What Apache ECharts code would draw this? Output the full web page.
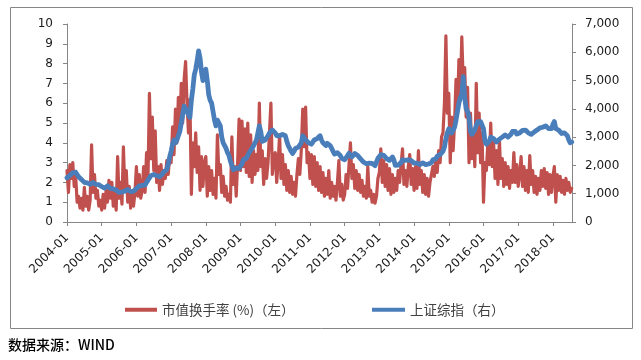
<!DOCTYPE html>
<html><head><meta charset="utf-8">
<script src="https://cdn.jsdelivr.net/npm/echarts@6/dist/echarts.min.js"></script>
<style>html,body{margin:0;padding:0;background:#fff}#c{width:641px;height:360px}</style>
</head><body><div id="c"></div>
<script>
// Semi-monthly samples starting 2004-01 (24 per year)
var startYear = 2004;
var stepsPerYear = 24;
var yearTicks = [2004,2005,2006,2007,2008,2009,2010,2011,2012,2013,2014,2015,2016,2017,2018];
var turnoverName = '市值换手率 (%)（左）';
var indexName = '上证综指（右）';
var turnover = [
 2.6,1.5,2.9,2.2,3.0,1.8,2.3,1.0,1.3,0.7,1.2,0.6,1.75,0.8,1.3,0.6,1.1,3.9,1.5,2.4,1.2,1.6,0.8,1.1,
 0.6,1.4,0.7,1.6,1.0,2.1,1.2,2.0,0.8,1.5,0.6,3.3,1.2,2.0,0.9,3.8,1.6,2.6,1.0,1.8,0.7,1.4,0.8,1.5,
 2.8,1.3,2.4,1.2,1.6,2.8,1.5,3.5,2.2,6.5,3.2,5.3,2.6,4.6,2.0,2.8,1.6,2.9,1.9,2.6,2.2,3.1,2.4,3.3,
 3.0,4.8,3.4,5.7,4.0,6.3,4.5,7.0,5.0,7.2,8.1,6.0,4.5,6.2,1.4,4.0,2.8,4.5,2.5,3.8,1.6,3.3,1.8,3.0,
 3.3,1.3,2.8,1.6,2.6,1.4,2.2,1.2,4.4,2.4,2.9,1.5,2.3,1.3,1.8,1.1,1.4,1.0,4.3,1.9,2.8,1.3,3.0,5.2,
 2.6,5.1,2.8,4.7,2.5,5.0,2.3,4.4,2.0,3.6,2.4,3.4,2.6,6.0,2.8,3.6,1.9,3.2,2.2,3.0,3.0,6.0,2.4,3.3,
 3.5,2.0,3.0,4.4,2.2,3.4,1.9,2.9,1.6,2.6,1.5,2.3,1.4,2.0,1.3,2.4,3.2,2.4,3.6,5.7,3.8,5.8,3.0,3.5,
 2.2,3.4,1.9,3.3,1.8,3.0,1.6,2.8,1.5,2.5,1.3,2.2,1.4,2.6,1.2,2.0,1.3,1.8,1.1,2.0,3.1,1.3,1.9,1.1,
 1.4,2.4,1.7,2.9,4.0,2.2,2.9,1.7,2.6,1.6,2.4,1.5,2.1,1.3,1.8,1.2,2.8,1.3,1.6,1.0,1.4,0.95,1.3,2.2,
 2.5,3.7,2.0,3.1,1.8,2.9,1.6,2.7,1.4,2.4,1.5,2.2,1.6,2.6,2.0,2.9,3.7,1.9,2.6,1.8,2.8,3.4,1.9,2.7,
 1.6,2.8,1.7,3.6,1.9,2.6,1.5,2.4,1.4,2.2,1.3,2.0,2.0,2.8,2.3,3.2,2.5,3.6,3.0,4.3,4.5,6.0,9.4,5.5,
 6.5,3.0,5.3,3.6,5.0,7.2,5.5,8.2,6.5,9.35,7.0,7.8,5.3,6.8,3.0,5.5,3.2,4.5,2.8,7.0,3.5,5.5,3.0,4.5,
 1.0,3.0,2.6,4.0,2.9,5.0,2.8,4.0,2.2,3.6,1.9,4.2,2.2,3.2,1.8,3.0,1.9,2.8,1.7,2.6,2.0,3.5,2.0,2.9,
 1.8,2.4,3.3,1.8,2.8,1.6,2.6,1.5,3.35,1.9,2.6,1.5,2.3,1.4,2.2,1.6,2.6,1.8,2.7,1.7,2.5,1.4,2.4,1.5,
 2.3,2.8,1.0,2.4,1.6,2.3,1.5,2.1,1.4,2.2,1.6,2.0,1.5,1.7
];
var sseIndex = [
 1560,1600,1650,1700,1740,1720,1760,1700,1600,1560,1500,1440,1400,1420,1380,1360,1330,1360,1400,1350,1330,1350,1320,1290,
 1250,1210,1200,1230,1280,1250,1190,1170,1170,1180,1130,1080,1050,1040,1060,1080,1090,1120,1150,1140,1070,1080,1090,1130,
 1180,1240,1280,1300,1290,1300,1310,1400,1440,1560,1640,1670,1680,1720,1640,1620,1600,1660,1700,1780,1820,1850,2050,2300,
 2500,2750,2900,2800,2900,3050,3200,3500,3800,4100,4000,3900,3900,3700,4300,4700,5200,5400,5700,6050,5800,5300,5000,5300,
 5400,5000,4500,4300,4200,3900,3600,3400,3600,3650,3400,3000,2800,2750,2600,2450,2350,2150,2000,1850,1800,1900,1950,1900,
 1950,2050,2200,2150,2250,2350,2450,2500,2600,2700,2800,2900,3150,3400,3200,2850,2800,2900,2950,3050,3150,3200,3250,3250,
 3150,3050,3000,3050,3100,3100,3150,3050,2850,2700,2600,2500,2420,2500,2600,2650,2650,2650,2800,3050,3050,2900,2850,2800,
 2800,2750,2800,2900,2950,2950,3000,3050,2900,2800,2750,2700,2780,2800,2700,2600,2500,2400,2380,2450,2450,2350,2250,2200,
 2200,2250,2350,2430,2400,2300,2350,2420,2400,2350,2300,2230,2180,2120,2100,2060,2050,2080,2100,2070,2030,1990,2050,2250,
 2300,2380,2420,2360,2300,2240,2220,2180,2230,2300,2200,2000,1990,2010,2050,2100,2200,2180,2180,2150,2200,2200,2170,2120,
 2080,2040,2080,2060,2030,2050,2090,2030,2030,2030,2050,2040,2100,2200,2220,2230,2330,2360,2380,2420,2500,2650,2950,3150,
 3300,3250,3150,3250,3350,3600,3900,4200,4400,4500,5140,4400,4000,3900,3700,3200,3100,3100,3250,3400,3550,3600,3550,3500,
 3300,2850,2750,2780,2850,3000,3050,2950,2900,2830,2900,2930,3000,3000,3000,3080,3050,3000,3050,3100,3200,3250,3200,3110,
 3120,3150,3200,3240,3230,3250,3270,3150,3080,3100,3110,3180,3200,3250,3260,3330,3360,3350,3380,3400,3380,3300,3280,3300,
 3450,3550,3300,3250,3250,3200,3130,3100,3150,3130,3050,2900,2800,2830
];
function toPairs(arr){ return arr.map(function(v,i){ return [startYear + i/stepsPerYear, v]; }); }

var RED = '#C0504D', BLUE = '#4A7EBB', AXIS = '#868686', TXT = '#1a1a1a';
var chart = echarts.init(document.getElementById('c'), null, {renderer:'canvas'});
chart.setOption({
  animation: false,
  backgroundColor: '#fff',
  grid: {left: 67, right: 69, top: 24, bottom: 138, containLabel: false},
  legend: [
    {data:[turnoverName], left: 120, top: 298, itemWidth: 32, itemHeight: 4, icon: 'rect',
     textStyle:{fontFamily:'Noto Sans CJK SC', fontSize:13.5, color:'#404040'}},
    {data:[indexName], left: 367, top: 298, itemWidth: 33, itemHeight: 4, icon: 'rect',
     textStyle:{fontFamily:'Noto Sans CJK SC', fontSize:13.5, color:'#404040'}}
  ],
  xAxis: {
    type: 'value', min: yearTicks[0], max: 2018.55, interval: 1,
    axisLine: {show: true, lineStyle: {color: AXIS}},
    axisTick: {show: true, length: 4, lineStyle: {color: AXIS}},
    splitLine: {show: false},
    axisLabel: {rotate: 45, margin: 14, fontFamily: 'DejaVu Sans', fontSize: 12, color: TXT,
      showMaxLabel: false,
      formatter: function(v){ return yearTicks.indexOf(Math.round(v*1000)/1000) >= 0 ? v + '-01' : ''; }}
  },
  yAxis: [
    {type: 'value', min: 0, max: 10, interval: 1, position: 'left',
     axisLine: {show: true, lineStyle: {color: AXIS}},
     axisTick: {show: true, length: 4, lineStyle: {color: AXIS}},
     splitLine: {show: false},
     axisLabel: {margin: 14, fontFamily: 'DejaVu Sans', fontSize: 12, color: TXT}},
    {type: 'value', min: 0, max: 7000, interval: 1000, position: 'right',
     axisLine: {show: true, lineStyle: {color: AXIS}},
     axisTick: {show: true, length: 4, lineStyle: {color: AXIS}},
     splitLine: {show: false},
     axisLabel: {margin: 13, fontFamily: 'DejaVu Sans', fontSize: 12, color: TXT,
       formatter: function(v){ return v.toLocaleString('en-US'); }}}
  ],
  series: [
    {name: turnoverName, type: 'line', yAxisIndex: 0, data: toPairs(turnover), showSymbol: false,
     lineStyle: {color: RED, width: 3.2, join: 'round', cap: 'round'}, itemStyle: {color: RED}, z: 2},
    {name: indexName, type: 'line', yAxisIndex: 1, data: toPairs(sseIndex), showSymbol: false,
     lineStyle: {color: BLUE, width: 4.8, join: 'round', cap: 'round'}, itemStyle: {color: BLUE}, z: 3}
  ],
  graphic: [
    {type: 'rect', shape: {x: 10.5, y: 7.5, width: 622, height: 321}, silent: true, z: -1,
     style: {fill: 'none', stroke: AXIS, lineWidth: 1}},
    {type: 'text', left: 8, top: 338, silent: true,
     style: {text: '数据来源：WIND', font: '500 14px "Noto Sans CJK SC"', fill: '#000'}}
  ]
});
</script></body></html>
